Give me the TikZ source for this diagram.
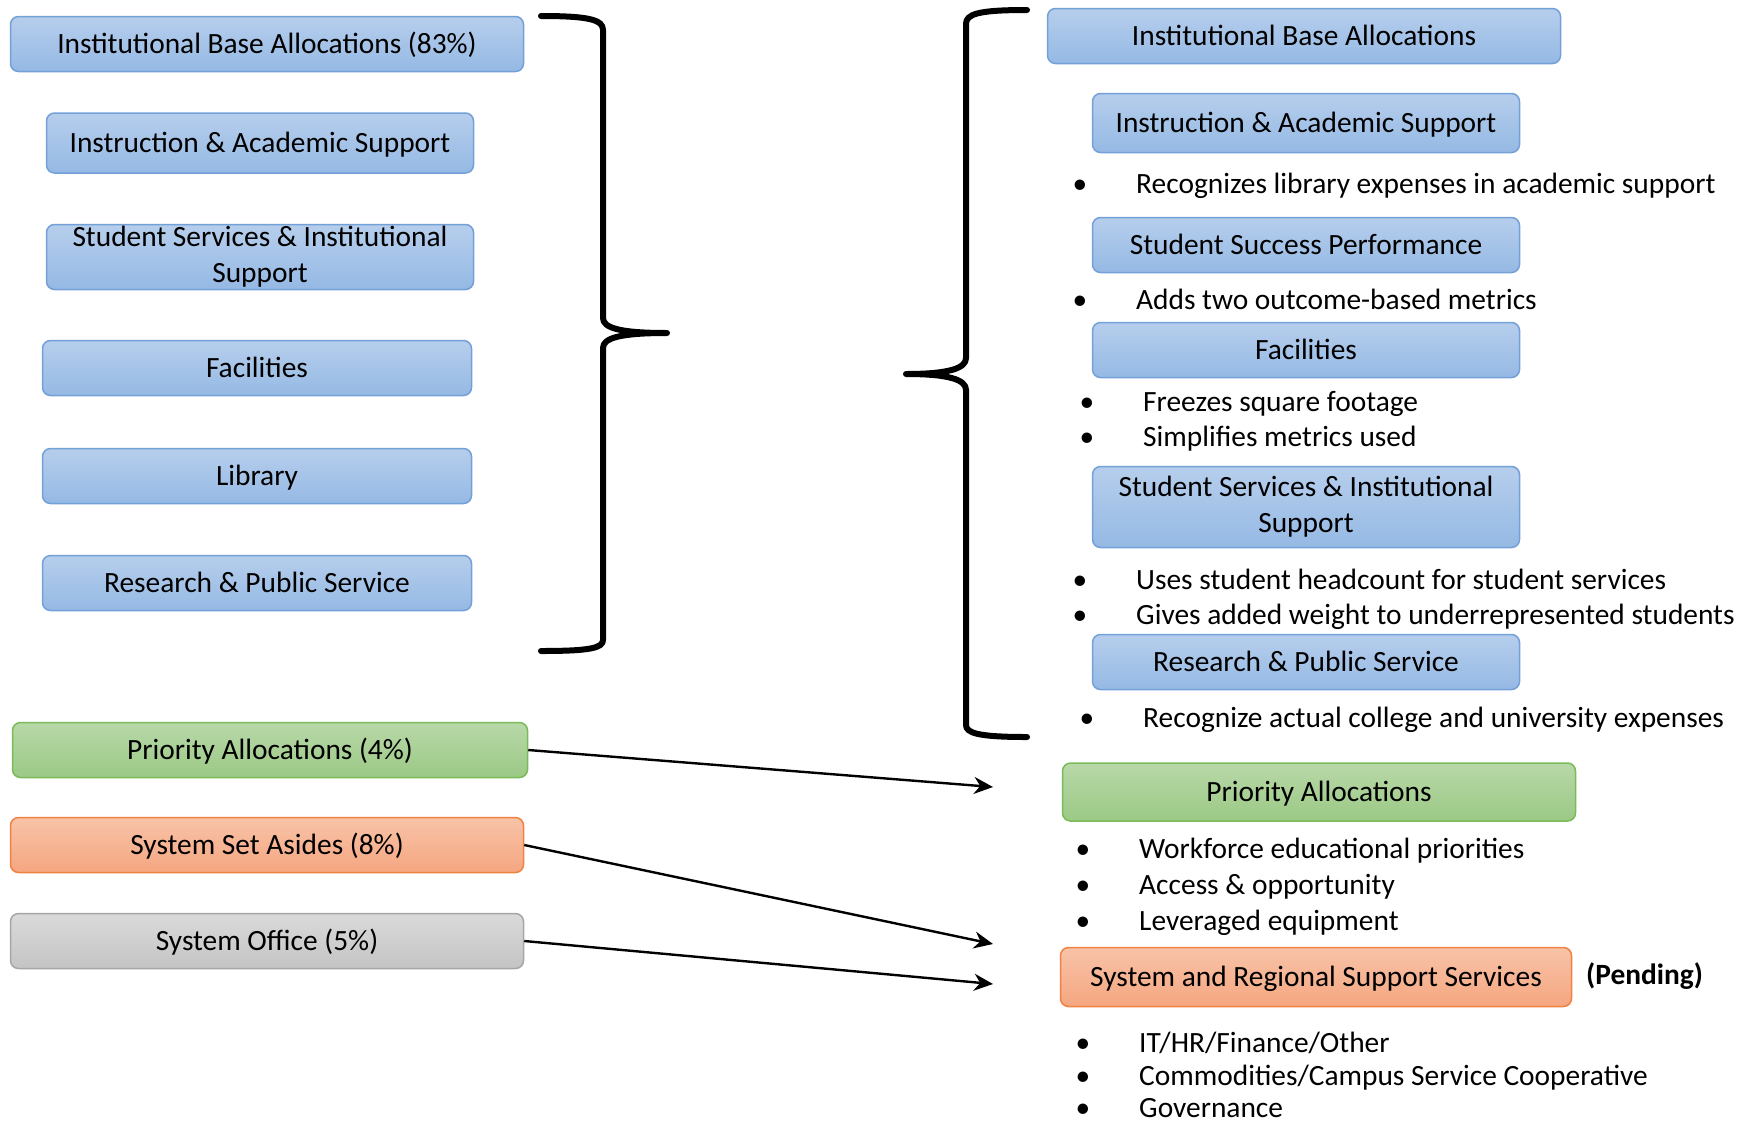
\documentclass[tikz,border=0pt]{standalone}
\usepackage{fontspec}
\setmainfont{Carlito}
\usetikzlibrary{arrows.meta, positioning}

\definecolor{bluetop}{RGB}{182,206,236}
\definecolor{bluebot}{RGB}{149,185,228}
\definecolor{blueline}{RGB}{116,160,216}
\definecolor{greentop}{RGB}{184,216,168}
\definecolor{greenbot}{RGB}{155,201,133}
\definecolor{greenline}{RGB}{122,186,88}
\definecolor{orangetop}{RGB}{248,195,168}
\definecolor{orangebot}{RGB}{245,166,128}
\definecolor{orangeline}{RGB}{240,130,66}
\definecolor{graytop}{RGB}{218,218,218}
\definecolor{graybot}{RGB}{196,196,196}
\definecolor{grayline}{RGB}{166,166,166}

\tikzset{
  box/.style={draw, rounded corners=8pt, line width=1.5pt, minimum height=55pt,
    inner sep=0pt, align=center, text height=25pt, text depth=6pt,
    font=\fontsize{29.4}{36}\selectfont},
  twoline/.style={text height=, text depth=},
  bluebox/.style={box, draw=blueline, top color=bluetop, bottom color=bluebot},
  greenbox/.style={box, draw=greenline, top color=greentop, bottom color=greenbot},
  orangebox/.style={box, draw=orangeline, top color=orangetop, bottom color=orangebot},
  graybox/.style={box, draw=grayline, top color=graytop, bottom color=graybot},
  bul/.style={inner sep=0pt, text height=25pt, text depth=6pt, font=\fontsize{29.4}{36}\selectfont},
  itemtxt/.style={bul, anchor=west},
  brace/.style={line width=6pt, line cap=round, line join=round},
  flow/.style={line width=2.4pt, -{Stealth[length=19pt,width=17pt]}}
}

% bullet line: name, x, y, text
\newcommand{\bitem}[4]{%
  \node[bul] (#1-dot) at (#2,#3) {\textbullet};
  \node[itemtxt] (#1) at (#2+56,#3) {#4};}

\begin{document}
\begin{tikzpicture}[x=1pt,y=-1pt]
\useasboundingbox (0,0) rectangle (1750,1125);

% current model
\node[bluebox, minimum width=513pt] (lbase) at (267,44) {Institutional Base Allocations (83\%)};
\node[bluebox, minimum width=427pt, minimum height=60pt] (linstr) at (260,143) {Instruction \& Academic Support};
\node[bluebox, twoline, minimum width=427pt, minimum height=65pt] (lstud) at (260,257) {Student Services \& Institutional\\Support};
\node[bluebox, minimum width=429pt] (lfac) at (257,368) {Facilities};
\node[bluebox, minimum width=429pt] (llib) at (257,476) {Library};
\node[bluebox, minimum width=429pt] (lres) at (257,583) {Research \& Public Service};
\node[greenbox, minimum width=515pt] (lprio) at (270,750) {Priority Allocations (4\%)};
\node[orangebox, minimum width=513pt] (lset) at (267,845) {System Set Asides (8\%)};
\node[graybox, minimum width=513pt] (loffice) at (267,941) {System Office (5\%)};

% braces
\draw[brace] (541,16) .. controls (590,16) and (603,20) .. (603,30) -- (603,318)
  .. controls (603,328) and (620,333) .. (667,333)
  .. controls (620,333) and (603,338) .. (603,348) -- (603,640)
  .. controls (603,648) and (590,651) .. (541,651);
\draw[brace] (1027,10) .. controls (978,10) and (966,14) .. (966,24) -- (966,358)
  .. controls (966,368) and (950,374) .. (906,374)
  .. controls (950,374) and (966,380) .. (966,390) -- (966,725)
  .. controls (966,733) and (978,737) .. (1027,737);

% new model
\node[bluebox, minimum width=513pt] (rbase) at (1304,36) {Institutional Base Allocations};
\node[bluebox, minimum width=427pt, minimum height=59pt] (rinstr) at (1306,123) {Instruction \& Academic Support};
\bitem{i1}{1080}{184}{Recognizes library expenses in academic support}
\node[bluebox, minimum width=427pt] (rsucc) at (1306,245) {Student Success Performance};
\bitem{s1}{1080}{300}{Adds two outcome-based metrics}
\node[bluebox, minimum width=427pt] (rfac) at (1306,350) {Facilities};
\bitem{f1}{1087}{402}{Freezes square footage}
\bitem{f2}{1087}{437}{Simplifies metrics used}
\node[bluebox, twoline, minimum width=427pt, minimum height=81pt] (rstud) at (1306,507) {Student Services \& Institutional\\Support};
\bitem{u1}{1080}{580}{Uses student headcount for student services}
\bitem{u2}{1080}{615}{Gives added weight to underrepresented students}
\node[bluebox, minimum width=427pt] (rres) at (1306,662) {Research \& Public Service};
\bitem{r1}{1087}{718}{Recognize actual college and university expenses}
\node[greenbox, minimum width=513pt, minimum height=58pt] (rprio) at (1319,792) {Priority Allocations};
\bitem{p1}{1083}{849}{Workforce educational priorities}
\bitem{p2}{1083}{885}{Access \& opportunity}
\bitem{p3}{1083}{921}{Leveraged equipment}
\node[orangebox, minimum width=511pt, minimum height=59pt] (rsys) at (1316,977) {System and Regional Support Services};
\node[itemtxt, font=\fontsize{29.4}{36}\selectfont\bfseries] (pending) at (1586,975) {(Pending)};
\bitem{g1}{1083}{1043}{IT/HR/Finance/Other}
\bitem{g2}{1083}{1076}{Commodities/Campus Service Cooperative}
\bitem{g3}{1083}{1108}{Governance}

% arrows
\coordinate (prioend) at (993,787);
\coordinate (setend) at (993,944);
\coordinate (officeend) at (993,984);
\draw[flow] (lprio.east) -- (prioend);
\draw[flow] (lset.east) -- (setend);
\draw[flow] (loffice.east) -- (officeend);
\end{tikzpicture}
\end{document}
